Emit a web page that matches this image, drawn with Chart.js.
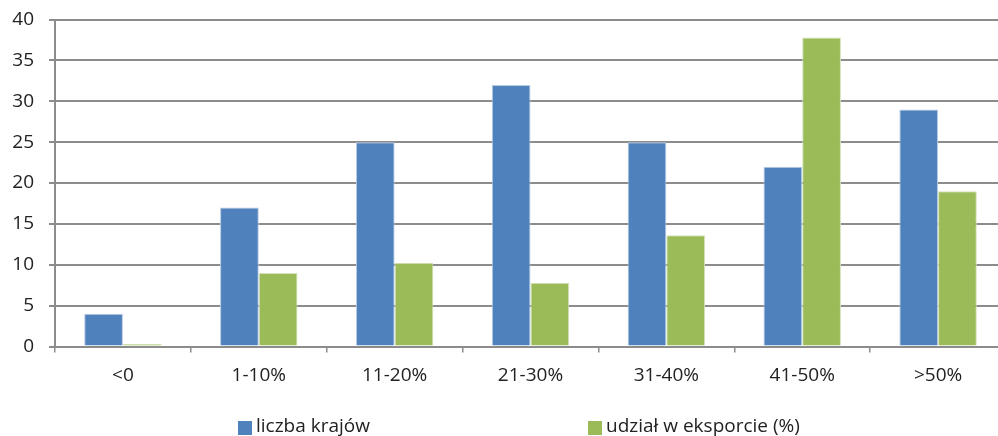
<!DOCTYPE html>
<html>
<head>
<meta charset="utf-8">
<script src="https://cdn.jsdelivr.net/npm/chart.js@4/dist/chart.umd.min.js"></script>
<style>
  html, body { margin: 0; padding: 0; background: #ffffff; overflow: hidden; width: 998px; height: 436px; }
  canvas { display: block; }
</style>
</head>
<body>
<canvas id="chart" width="1012" height="436"></canvas>
<script>
// Przedziały i wartości serii
const categories = ['<0', '1-10%', '11-20%', '21-30%', '31-40%', '41-50%', '>50%'];
const liczbaKrajow = [4, 17, 25, 32, 25, 22, 29];
const udzialEksport = [0.3, 9, 10.25, 7.8, 13.6, 37.8, 19];
const seriesNames = ['liczba krajów', 'udział w eksporcie (%)'];
const yTicks = [0, 5, 10, 15, 20, 25, 30, 35, 40];

const FONT = '"Open Sans", "Liberation Sans", sans-serif';
const TEXT = '#222222';
const GRID = '#8c8c8c';

// Legenda rysowana pod wykresem, szeroko rozstawiona
const wideLegend = {
  id: 'wideLegend',
  afterDraw(chart) {
    const ctx = chart.ctx;
    const positions = [238, 588];
    const y = 427;
    ctx.save();
    ctx.font = '19px ' + FONT;
    ctx.textBaseline = 'middle';
    chart.data.datasets.forEach((ds, i) => {
      const x = positions[i];
      ctx.fillStyle = ds.backgroundColor;
      ctx.fillRect(x, y - 6, 14, 14);
      ctx.fillStyle = TEXT;
      ctx.textAlign = 'left';
      ctx.fillText(ds.label, x + 18, y);
    });
    ctx.restore();
  }
};

new Chart(document.getElementById('chart'), {
  type: 'bar',
  data: {
    labels: categories,
    datasets: [
      {
        label: seriesNames[0],
        data: liczbaKrajow,
        backgroundColor: '#4f81bd',
        borderColor: '#b9cbe3',
        borderWidth: 1,
        categoryPercentage: 0.57,
        barPercentage: 1.0
      },
      {
        label: seriesNames[1],
        data: udzialEksport,
        backgroundColor: '#9bbb59',
        borderColor: '#d3e2b8',
        borderWidth: 1,
        categoryPercentage: 0.57,
        barPercentage: 1.0
      }
    ]
  },
  options: {
    responsive: false,
    maintainAspectRatio: false,
    animation: false,
    devicePixelRatio: 1,
    layout: { padding: { left: 0, right: 6, top: 19.5, bottom: 0 } },
    plugins: {
      legend: { display: false },
      tooltip: { enabled: false }
    },
    scales: {
      x: {
        offset: true,
        grid: {
          offset: true,
          drawOnChartArea: false,
          drawTicks: true,
          tickLength: 6,
          color: GRID,
          lineWidth: 1.5
        },
        border: { color: GRID, width: 2 },
        ticks: {
          color: TEXT,
          font: { family: FONT, size: 19 },
          padding: 12,
          maxRotation: 0,
          autoSkip: false
        },
        afterFit(scale) { scale.height = 89.5; }
      },
      y: {
        min: 0,
        max: 40,
        afterBuildTicks(scale) { scale.ticks = yTicks.map(v => ({ value: v })); },
        grid: {
          color: GRID,
          lineWidth: 2,
          tickLength: 6
        },
        border: { color: GRID, width: 2 },
        ticks: {
          color: TEXT,
          font: { family: FONT, size: 19 },
          padding: 15
        },
        afterFit(scale) {
          scale.width = 55;
          scale.paddingTop = 0;
          scale.paddingBottom = 0;
        }
      }
    }
  },
  plugins: [wideLegend]
});
</script>
</body>
</html>
